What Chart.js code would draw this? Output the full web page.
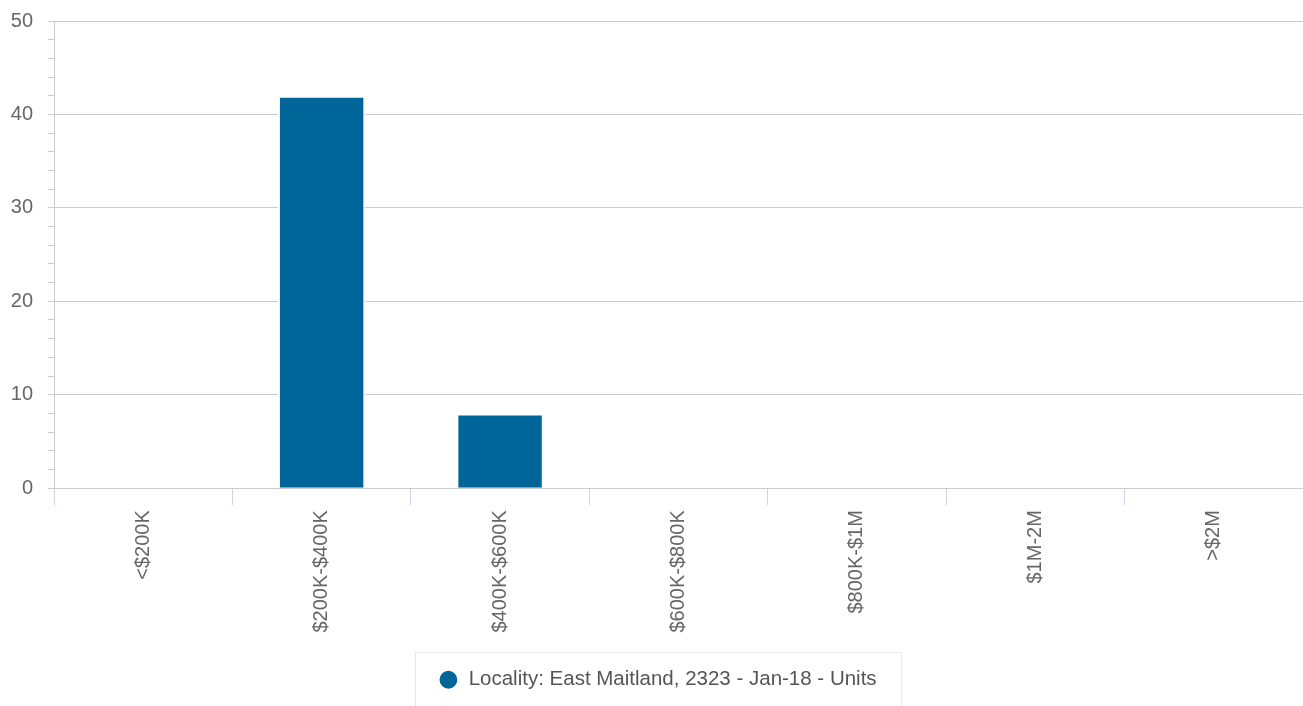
<!DOCTYPE html>
<html>
<head>
<meta charset="utf-8">
<script src="https://cdn.jsdelivr.net/npm/chart.js@4"></script>
<style>
  html, body { margin: 0; padding: 0; background: #fff; }
  #wrap { width: 1303px; height: 706px; }
</style>
</head>
<body>
<div id="wrap"><canvas id="priceChart"></canvas></div>
<script>
const categories = ["<$200K", "$200K-$400K", "$400K-$600K", "$600K-$800K", "$800K-$1M", "$1M-2M", ">$2M"];
const unitCounts = [0, 42, 8, 0, 0, 0, 0];
const seriesName = "Locality: East Maitland, 2323 - Jan-18 - Units";
const yMax = 50;

// border box around the legend, like the original
const legendBox = {
  id: "legendBox",
  afterLayout(chart) {
    // the original legend sits a few px right of centre
    chart.legend.left += 6;
    chart.legend.right += 6;
  },
  afterDraw(chart) {
    const hb = chart.legend.legendHitBoxes && chart.legend.legendHitBoxes[0];
    if (!hb) return;
    const c = chart.ctx;
    const cy = hb.top + hb.height / 2;
    c.save();
    c.strokeStyle = "#e8e8e8";
    c.lineWidth = 1;
    c.strokeRect(Math.round(hb.left - 23) + 0.5, Math.round(cy - 28) + 0.5, hb.width + 48, 80);
    c.restore();
  }
};

const font20 = { family: "'Liberation Sans', Arial, sans-serif", size: 20 };

const ctx = document.getElementById("priceChart").getContext("2d");

new Chart(ctx, {
  type: "bar",
  data: {
    labels: categories,
    datasets: [{
      label: seriesName,
      data: unitCounts,
      backgroundColor: "#006699",
      borderColor: "#ffffff",
      borderWidth: 2,
      categoryPercentage: 1,
      barPercentage: 0.49,
    }]
  },
  options: {
    responsive: true,
    maintainAspectRatio: false,
    animation: false,
    layout: { padding: { top: 21, right: 0, left: 0, bottom: 6 } },
    plugins: {
      tooltip: { enabled: false },
      legend: {
        position: "bottom",
        labels: {
          usePointStyle: true,
          pointStyle: "circle",
          boxHeight: 14,
          boxWidth: 20,
          color: "#555",
          font: { family: "'Liberation Sans', Arial, sans-serif", size: 20.5 },
          padding: 17,
        }
      }
    },
    scales: {
      x: {
        afterFit: (s) => { s.height += 15; },
        grid: {
          drawOnChartArea: false,
          drawTicks: true,
          tickLength: 17,
          tickColor: "#ccd6eb",
        },
        border: { display: true, color: "#cccccc" },
        ticks: {
          minRotation: 90,
          maxRotation: 90,
          padding: 5,
          color: "#666",
          font: font20,
        }
      },
      y: {
        min: 0,
        max: yMax,
        afterFit: (s) => { s.width = 54; s.paddingTop = 0; },
        grid: {
          color: (c) => (c.tick && c.tick.value % 10 === 0 ? "#cccccc" : "rgba(0,0,0,0)"),
          tickColor: "#cccccc",
          tickLength: 6,
        },
        border: { display: true, color: "#cccccc" },
        ticks: {
          stepSize: 2,
          autoSkip: false,
          padding: 15,
          color: "#666",
          font: font20,
          callback: (v) => (v % 10 === 0 ? v : ""),
        }
      }
    }
  },
  plugins: [legendBox]
});
</script>
</body>
</html>
